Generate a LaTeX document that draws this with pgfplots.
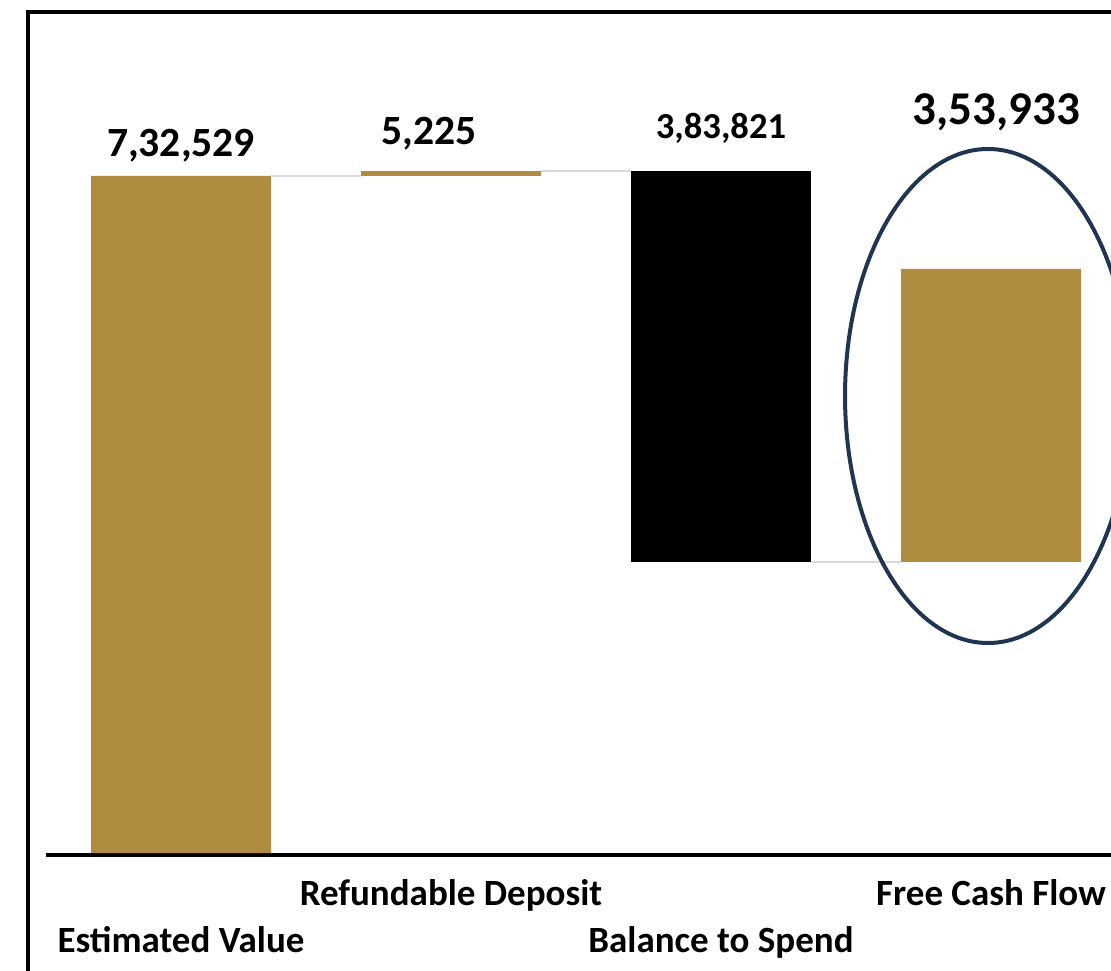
\documentclass[border=0pt]{standalone}
\usepackage{pgfplots}
\pgfplotsset{compat=1.18}
\usepackage{fontspec}
\setmainfont{Carlito}
\definecolor{gold}{RGB}{176,140,64}
\definecolor{navy}{RGB}{31,53,82}
\definecolor{conn}{RGB}{217,217,217}
\begin{document}
\begin{tikzpicture}
\useasboundingbox (0,0) rectangle (555.5pt,485pt);
\begin{scope}
\clip (0,0) rectangle (555.5pt,485pt);
\pgfplotsset{wf/.style={scale only axis, width=540pt, height=421.5pt,
  at={(23pt,57.5pt)}, anchor=south west,
  xmin=-0.5, xmax=3.5, ymin=-2164, ymax=909962,
  xtick=\empty, ytick=\empty, clip=false}}
% connector lines
\begin{axis}[wf, axis lines=none]
  \addplot[conn, line width=1pt, mark=none] coordinates {(0.3333,732529) (0.6667,732529)};
  \addplot[conn, line width=1pt, mark=none] coordinates {(1.3333,737754) (1.6667,737754)};
  \addplot[conn, line width=1pt, mark=none] coordinates {(2.3333,314862) (2.6667,314862)};
\end{axis}
% bars
\begin{axis}[wf, ybar stacked, bar width=90pt,
  axis x line=bottom, axis y line=none,
  x axis line style={line width=2pt,-}]
  \addplot[draw=none, fill=none] coordinates {(0,0) (1,732529) (2,314862) (3,314862)};
  \addplot[draw=none, fill=gold] coordinates {(0,732529) (1,5225) (2,0) (3,317026)};
  \addplot[draw=none, fill=black] coordinates {(0,0) (1,0) (2,422892) (3,0)};
  % value labels
  \node[anchor=base, font=\bfseries\fontsize{20.8}{25}\selectfont] at (axis cs:0,753072) {7,32,529};
  \node[anchor=base, font=\bfseries\fontsize{20.8}{25}\selectfont] at (axis cs:0.92,766056) {5,225};
  \node[anchor=base, font=\bfseries\fontsize{18.3}{22}\selectfont] at (axis cs:2,772548) {3,83,821};
  \node[anchor=base, font=\bfseries\fontsize{23.5}{28}\selectfont] at (axis cs:3.02,787696) {3,53,933};
  % category labels
  \node[anchor=base, font=\bfseries\fontsize{18.5}{22}\selectfont] at (axis cs:0,-107118) {Estimated Value};
  \node[anchor=base, font=\bfseries\fontsize{18.5}{22}\selectfont] at (axis cs:1,-56264) {Refundable Deposit};
  \node[anchor=base, font=\bfseries\fontsize{18.5}{22}\selectfont] at (axis cs:2,-107118) {Balance to Spend};
  \node[anchor=base, font=\bfseries\fontsize{18.5}{22}\selectfont] at (axis cs:3,-56264) {Free Cash Flow};
  % highlight ellipse
  \draw[navy, line width=2pt] (axis cs:2.989,494474) ellipse [x radius=71.5pt, y radius=123.5pt];
\end{axis}
% frame
\draw[line width=2pt] (14pt,-10pt) -- (14pt,479.15pt) -- (600pt,479.15pt);
\end{scope}
\end{tikzpicture}
\end{document}
